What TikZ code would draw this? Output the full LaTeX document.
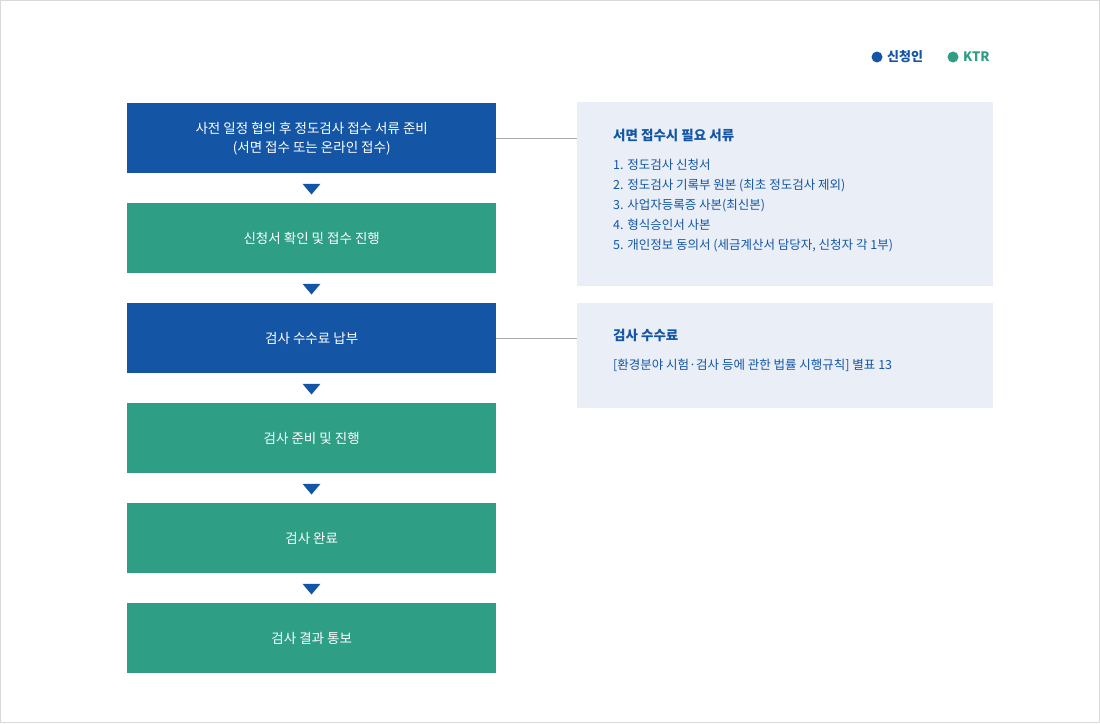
\documentclass[tikz,border=0pt]{standalone}
\usepackage{fontspec}
\setmainfont{Noto Sans CJK KR}
\definecolor{kblue}{HTML}{1456A5}
\definecolor{kgreen}{HTML}{2E9E85}
\definecolor{kpanel}{HTML}{E9EEF7}
\definecolor{kline}{HTML}{AAAAAA}
\begin{document}
\begin{tikzpicture}[x=1pt,y=-1pt,
  stepbox/.style={minimum width=369pt,minimum height=70pt,inner sep=0pt,text=white,font=\fontsize{13.5}{19}\selectfont,align=center,anchor=north west},
  bluebox/.style={stepbox,fill=kblue},
  greenbox/.style={stepbox,fill=kgreen},
  tri/.style={fill=kblue,isosceles triangle,shape border rotate=-90,isosceles triangle apex angle=80,minimum width=18pt,minimum height=10pt,inner sep=0pt},
  panel/.style={fill=kpanel,anchor=north west,inner sep=0pt},
  ptext/.style={anchor=north west,text=kblue,font=\fontsize{12.5}{20}\selectfont,align=left,inner sep=0pt}]
\usetikzlibrary{shapes.geometric}
\draw[draw=black!15,fill=white] (0.5,0.5) rectangle (1099.5,722.5);
\useasboundingbox (0,0) rectangle (1100,723);
\node[bluebox] (b1) at (127,103) {사전 일정 협의 후 정도검사 접수 서류 준비\\(서면 접수 또는 온라인 접수)};
\node[greenbox] (b2) at (127,203) {신청서 확인 및 접수 진행};
\node[bluebox] (b3) at (127,303) {검사 수수료 납부};
\node[greenbox] (b4) at (127,403) {검사 준비 및 진행};
\node[greenbox] (b5) at (127,503) {검사 완료};
\node[greenbox] (b6) at (127,603) {검사 결과 통보};
\foreach \y/\n in {188/t1,288/t2,388/t3,488/t4,588/t5}{\node[tri] (\n) at (311.5,\y) {};}
\node[panel,minimum width=416pt,minimum height=184pt] (p1) at (577,102) {};
\node[panel,minimum width=416pt,minimum height=105pt] (p2) at (577,303) {};
\draw[kline,line width=0.6pt] (b1.east|-0,138) -- (p1.west|-0,138);
\draw[kline,line width=0.6pt] (b3.east) -- (p2.west|-b3.east);
\node[ptext,font=\bfseries\fontsize{13.5}{20}\selectfont] (h1) at (613,129) {서면 접수시 필요 서류};
\node[ptext] (l1) at (613,159) {1. 정도검사 신청서\\2. 정도검사 기록부 원본 (최초 정도검사 제외)\\3. 사업자등록증 사본(최신본)\\4. 형식승인서 사본\\5. 개인정보 동의서 (세금계산서 담당자, 신청자 각 1부)};
\node[ptext,font=\bfseries\fontsize{13.5}{20}\selectfont] (h2) at (613,329) {검사 수수료};
\node[ptext] (l2) at (613,359) {[환경분야 시험·검사 등에 관한 법률 시행규칙] 별표 13};
\fill[kblue] (877,57) circle (5.5pt) coordinate (d1);
\node[anchor=west,text=kblue,font=\bfseries\fontsize{13}{16}\selectfont,inner sep=0pt] (g1) at (887,57) {신청인};
\fill[kgreen] (953,57) circle (5.5pt) coordinate (d2);
\node[anchor=west,text=kgreen,font=\bfseries\fontsize{13}{16}\selectfont,inner sep=0pt] (g2) at (963,57) {KTR};
\end{tikzpicture}
\end{document}
